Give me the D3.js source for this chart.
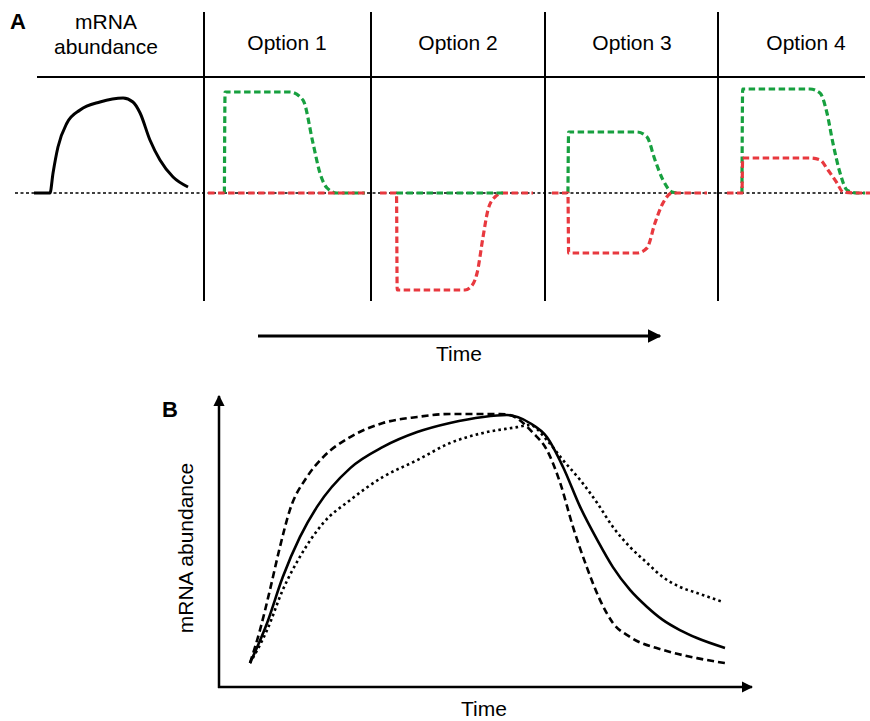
<!DOCTYPE html>
<html>
<head>
<meta charset="utf-8">
<script src="https://cdn.jsdelivr.net/npm/d3@7"></script>
<style>
  body { margin: 0; background: #fff; }
  svg { display: block; font-family: "Liberation Sans", Arial, sans-serif; }
</style>
</head>
<body>
<svg id="fig" width="870" height="721"></svg>
<script>
'use strict';

// ---- Panel A data (time 0-100 within each column, level -100..100) ----
var headers = ["mRNA\nabundance", "Option 1", "Option 2", "Option 3", "Option 4"];

var mrnaTrace = [[0,0],[9.4,0],[11.2,20],[14.1,46],[19.4,70],[27.1,83],[38.8,91],[52.4,95],
                 [58.2,91],[62.4,80],[68.2,53],[74.1,33],[81.8,16],[90.6,6]];

var option1Green = [[12,0],[12.4,101],[50.6,101],[58.2,93],[64.1,50],[68.2,20],[72.4,5],[78.2,0],[94.7,0]];
var option1Red   = [[2.4,0],[94.7,0]];

var option2Green = [[15,0],[78,0]];
var option2Red   = [[5.3,0],[15,0],[15.4,-97],[55.3,-97],[58,-95],[62.4,-80],[65.9,-44],[68.8,-17],
                    [72.9,-4],[77.6,0],[95.3,0]];

var option3Green = [[13.5,0],[13.9,61],[54.1,61],[60,56],[64.7,33],[69.4,13],[74.7,1],[78,0]];
var option3Red   = [[4.1,0],[13.5,0],[13.9,-60],[54.1,-60],[60,-55],[64.7,-30],[69.4,-10],[74.7,0],[95.3,0]];

var option4Green = [[14.1,0],[14.5,104],[54.1,104],[60,100],[64.1,80],[67.6,50],[71.8,20],[75.9,3],[81.8,0],[86.5,0]];
var option4Red   = [[5.3,0],[14.1,0],[14.5,35],[54.1,35],[60,33],[64.7,23],[70,10],[73.5,1],[80,0],[89.4,0]];

// ---- Panel B data (time 0-100, abundance 0-100) ----
var solidTrace = [[0,8.7],[3.6,23.3],[6.9,40],[10.5,54.5],[14.1,65.5],[21.1,79.6],[28,87.3],[35.2,92.7],
                  [42.1,96],[49.1,98.2],[54.1,98.9],[58.9,96],[62.5,90.9],[65.9,80],[69.5,65.5],[73.1,53.5],
                  [76.4,43.6],[80,35.3],[83.6,29.1],[86.9,24.4],[90.5,20.7],[94.1,17.8],[100,14.2]];
var dashedTrace = [[0,8.7],[2.1,20.7],[4.2,35.3],[6.3,50.9],[8.4,64.4],[12,76.4],[15.4,83.6],[21.1,90.9],
                   [28,96],[35.2,98.2],[42.1,99.3],[52.6,99.3],[54.7,98.9],[59.6,92.4],[62.5,86.2],
                   [65.3,74.2],[68,58.2],[70.9,43.6],[73.7,31.6],[76.4,23.3],[80,18.2],[86.9,13.5],
                   [94.1,10.5],[100,8.7]];
var dottedTrace = [[0,8.7],[3.6,20.7],[6.9,35.3],[10.5,47.3],[15.4,59.6],[21.1,68],[28,76.4],[35.2,82.5],
                   [42.1,88.7],[49.1,92.4],[56.2,94.5],[58.9,95.3],[62.5,89.8],[65.9,82.5],[69.5,75.3],
                   [73.1,66.9],[76.4,58.2],[80,50.9],[83.6,45.1],[86.9,40],[90.5,36.4],[94.1,34.2],[99.6,30.9]];

var green = "#17a03f", red = "#e8393f";
var fontSize = 21;

var svg = d3.select("#fig");

var defs = svg.append("defs");
defs.append("marker")
    .attr("id", "arrow")
    .attr("viewBox", "0 0 10 10")
    .attr("refX", 9).attr("refY", 5)
    .attr("markerWidth", 4.5).attr("markerHeight", 4.5)
    .attr("markerUnits", "strokeWidth")
    .attr("orient", "auto")
    .append("path")
    .attr("d", "M0,0 L10,5 L0,10 Z")
    .attr("fill", "#000");

// =================== Panel A ===================
var colLefts = [34, 204, 371, 545, 718];
var colCenters = [106, 287, 458, 632, 806];
var dividers = [204, 371, 545, 718];

var yA = d3.scaleLinear().domain([-100, 100]).range([293, 93]);
function colScale(i) {
    return d3.scaleLinear().domain([0, 100]).range([colLefts[i], colLefts[i] + 170]);
}

svg.append("text").attr("x", 10).attr("y", 29)
   .attr("font-size", 22).attr("font-weight", "bold").text("A");

// headers
headers.forEach(function(h, i) {
    var lines = h.split("\n");
    var t = svg.append("text")
        .attr("x", colCenters[i])
        .attr("text-anchor", "middle")
        .attr("font-size", fontSize);
    if (lines.length == 1) {
        t.attr("y", 50).text(h);
    } else {
        lines.forEach(function(l, k) {
            t.append("tspan").attr("x", colCenters[i]).attr("y", 29 + k * 25).text(l);
        });
    }
});

// grid lines
svg.append("line").attr("x1", 37).attr("x2", 865).attr("y1", 77).attr("y2", 77)
   .attr("stroke", "#000").attr("stroke-width", 2);
dividers.forEach(function(x) {
    svg.append("line").attr("x1", x).attr("x2", x).attr("y1", 12).attr("y2", 301)
       .attr("stroke", "#000").attr("stroke-width", 2);
});

// baseline
svg.append("line").attr("x1", 15).attr("x2", 870).attr("y1", yA(0)).attr("y2", yA(0))
   .attr("stroke", "#000").attr("stroke-width", 1.3).attr("stroke-dasharray", "3,2.5");

function drawTrace(data, col, color, dashed) {
    var x = colScale(col);
    var line = d3.line()
        .x(d => x(d[0]))
        .y(d => yA(d[1]))
        .curve(d3.curveMonotoneX);
    var p = svg.append("path")
        .datum(data)
        .attr("d", line)
        .attr("fill", "none")
        .attr("stroke", color)
        .attr("stroke-width", dashed ? 3.2 : 3);
    if (dashed) p.attr("stroke-dasharray", "6.5,3.5");
}

drawTrace(mrnaTrace, 0, "#000", false);

drawTrace(option1Green, 1, green, true);
drawTrace(option1Red, 1, red, true);

drawTrace(option2Red, 2, red, true);
drawTrace(option2Green, 2, green, true);

drawTrace(option3Green, 3, green, true);
drawTrace(option3Red, 3, red, true);

drawTrace(option4Green, 4, green, true);
drawTrace(option4Red, 4, red, true);

// time arrow
svg.append("line").attr("x1", 258).attr("x2", 660).attr("y1", 336).attr("y2", 336)
   .attr("stroke", "#000").attr("stroke-width", 3).attr("marker-end", "url(#arrow)");
svg.append("text").attr("x", 459).attr("y", 361).attr("text-anchor", "middle")
   .attr("font-size", fontSize).text("Time");

// =================== Panel B ===================
var xB = d3.scaleLinear().domain([0, 100]).range([250, 725]);
var yB = d3.scaleLinear().domain([0, 100]).range([687, 412]);

svg.append("text").attr("x", 162).attr("y", 417)
   .attr("font-size", 22).attr("font-weight", "bold").text("B");

svg.append("line").attr("x1", 219).attr("x2", 219).attr("y1", 688).attr("y2", 396)
   .attr("stroke", "#000").attr("stroke-width", 2.5).attr("marker-end", "url(#arrow)");
svg.append("line").attr("x1", 218).attr("x2", 752).attr("y1", 687).attr("y2", 687)
   .attr("stroke", "#000").attr("stroke-width", 2.5).attr("marker-end", "url(#arrow)");

svg.append("text")
   .attr("transform", "translate(193,548) rotate(-90)")
   .attr("text-anchor", "middle").attr("font-size", fontSize).text("mRNA abundance");
svg.append("text").attr("x", 484).attr("y", 716).attr("text-anchor", "middle")
   .attr("font-size", fontSize).text("Time");

var lineB = d3.line()
    .x(d => xB(d[0]))
    .y(d => yB(d[1]))
    .curve(d3.curveMonotoneX);

svg.append("path").datum(dottedTrace).attr("d", lineB)
   .attr("fill", "none").attr("stroke", "#000").attr("stroke-width", 2.6)
   .attr("stroke-dasharray", "2.6,3.2");
svg.append("path").datum(dashedTrace).attr("d", lineB)
   .attr("fill", "none").attr("stroke", "#000").attr("stroke-width", 2.6)
   .attr("stroke-dasharray", "7,4");
svg.append("path").datum(solidTrace).attr("d", lineB)
   .attr("fill", "none").attr("stroke", "#000").attr("stroke-width", 2.6);
</script>
</body>
</html>
